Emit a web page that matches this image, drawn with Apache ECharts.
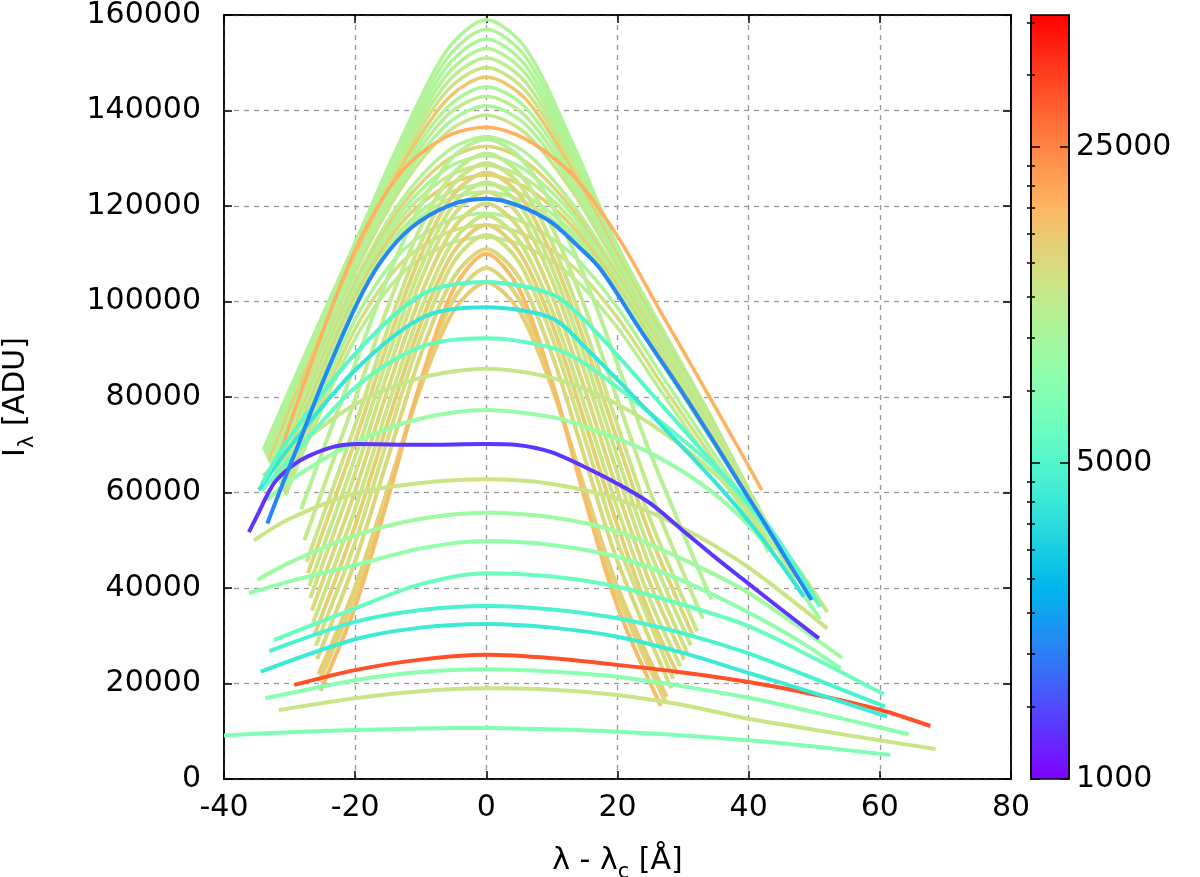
<!DOCTYPE html>
<html>
<head>
<meta charset="utf-8">
<script src="https://cdn.jsdelivr.net/npm/echarts@6/dist/echarts.min.js"></script>
<style>
  html, body { margin: 0; padding: 0; background: #fff; }
  #chart { width: 1200px; height: 877px; }
</style>
</head>
<body>
<div id="chart"></div>
<script>
// axis ticks
const xTicks = [-40, -20, 0, 20, 40, 60, 80];
const yTicks = [0, 20000, 40000, 60000, 80000, 100000, 120000, 140000, 160000];
const cbMajor = [1000, 5000, 25000];
const cbMinor = [1444, 1889, 2333, 2778, 3222, 3667, 4111, 4556,
                 7222, 9444, 11667, 13889, 16111, 18333, 20556, 22778,
                 36111, 47222];
const cbMin = 1000, cbMax = 49000;

// broad profiles (the dense bundle)
const g159 = [[-34,69000],[-27,90900],[-20,112400],[-13,134000],[-6,152600],[0,159000],[6,153000],[13,133600],[20,111600],[27,93800],[34,76500],[41,57600],[47,40900]];
const g157 = [[-33.85,68600],[-27,90300],[-20,111900],[-13,133100],[-6,150900],[0,157000],[6,151200],[13,132600],[20,111300],[27,93600],[34,76400],[41,57700],[47,41200]];
const g155 = [[-33.7,68100],[-27,89600],[-20,111300],[-13,132100],[-6,149200],[0,155000],[6,149400],[13,131700],[20,111000],[27,93400],[34,76300],[41,57800],[47,41500]];
const g153 = [[-33.54,67700],[-27,88900],[-20,110700],[-13,131100],[-6,147500],[0,153000],[6,147700],[13,130700],[20,110600],[27,93200],[34,76200],[41,57900],[47,41800]];
const g151 = [[-33.38,67200],[-27,88200],[-20,110100],[-13,130100],[-6,145800],[0,151000],[6,145900],[13,129700],[20,110200],[27,92900],[34,76000],[41,57900],[47,42100]];
const g149 = [[-33.23,66800],[-27,87500],[-20,109500],[-13,129100],[-6,144100],[0,149000],[6,144100],[13,128700],[20,109800],[27,92600],[34,75900],[41,58000],[47,42300]];
const t147 = [[-33.09,66400],[-27,86800],[-20,108900],[-13,128100],[-6,142300],[0,147000],[6,142400],[13,127600],[20,109400],[27,92300],[34,75700],[41,58000],[47,42500]];
const g145 = [[-32.93,66000],[-27,86000],[-20,108200],[-13,127000],[-6,140600],[0,145000],[6,140600],[13,126600],[20,108900],[27,92000],[34,75500],[41,58000],[47,42700]];
const g143 = [[-32.79,65600],[-27,85300],[-20,107500],[-13,125900],[-6,138900],[0,143000],[6,138800],[13,125500],[20,108400],[27,91600],[34,75300],[41,57900],[47,42900]];
const g141 = [[-32.65,65200],[-27,84500],[-20,106800],[-13,124800],[-6,137100],[0,141000],[6,137000],[13,124400],[20,107900],[27,91200],[34,75000],[41,57900],[47,43100]];
const g139 = [[-32.51,64800],[-27,83700],[-20,106100],[-13,123700],[-6,135400],[0,139000],[6,135200],[13,123300],[20,107300],[27,90800],[34,74700],[41,57800],[47,43200]];
const o136 = [[-32.38,64500],[-27,85900],[-20,110800],[-13,127100],[-6,134600],[0,136500],[6,134000],[13,126700],[20,113700],[27,96800],[34,80100],[40,65500],[42,60500]];
const g134 = [[-32.19,63900],[-27,81900],[-20,104300],[-13,121100],[-6,131400],[0,134500],[6,131200],[13,120700],[20,105900],[27,89800],[34,74000],[41,57600],[47,43400]];
const t132 = [[-32.05,63500],[-27,81100],[-20,103500],[-13,119900],[-6,129600],[0,132500],[6,129300],[13,119500],[20,105300],[27,89300],[34,73700],[41,57400],[47,43500]];
const g130 = [[-31.9,63100],[-27,80300],[-20,102700],[-13,118700],[-6,127900],[0,130500],[6,127500],[13,118400],[20,104600],[27,88800],[34,73300],[41,57300],[47,43600]];
const g128 = [[-31.76,62700],[-27,79500],[-20,101800],[-13,117500],[-6,126100],[0,128500],[6,125700],[13,117100],[20,103900],[27,88200],[34,72900],[41,57100],[47,43600]];
const t126 = [[-31.62,62300],[-27,78600],[-20,100900],[-13,116300],[-6,124300],[0,126500],[6,123900],[13,115900],[20,103200],[27,87700],[34,72500],[41,56900],[47,43600]];
const g124 = [[-31.48,61900],[-27,77700],[-20,100000],[-13,115000],[-6,122500],[0,124500],[6,122100],[13,114700],[20,102400],[27,87100],[34,72000],[41,56600],[47,43600]];
const g123 = [[-31.38,61600],[-27,77100],[-20,99400],[-13,114100],[-6,121200],[0,123000],[6,120700],[13,113700],[20,101800],[27,86600],[34,71700],[41,56500],[47,43500]];
const g118 = [[-31.03,60600],[-27,74500],[-20,96200],[-13,110300],[-6,116800],[0,118500],[6,116400],[13,110000],[20,98700],[27,84000],[34,69600],[41,54900],[44,48000]];
const y116 = [[-30.83,60000],[-27,73000],[-20,94200],[-13,108000],[-6,114400],[0,116000],[6,113900],[13,107600],[20,96600],[27,82200],[34,68100],[41,53700],[43.5,48000]];
const g113 = [[-30.61,59400],[-27,71400],[-20,92200],[-13,105700],[-6,111900],[0,113500],[6,111500],[13,105300],[20,94500],[27,80500],[34,66600],[41,52600],[43,47500]];

// narrow profiles (the V-shaped fan)
const n134 = [[-28.25,56500],[-20,86900],[-15,105100],[-10,120200],[-5,130400],[0,134000],[5,130400],[10,120200],[15,105100],[20,86900],[25,68200],[34.3,37600]];
const n131 = [[-27.75,50000],[-20,79500],[-15,98900],[-10,115600],[-5,126900],[0,131000],[5,126900],[10,115600],[15,98900],[20,79500],[25,60000],[33,33600]];
const n129 = [[-27.4,45500],[-20,74100],[-15,94400],[-10,112300],[-5,124600],[0,129000],[5,124600],[10,112300],[15,94400],[20,74100],[25,54300],[32.15,30900]];
const n127 = [[-27.2,43100],[-20,70800],[-15,91400],[-10,109700],[-5,122400],[0,127000],[5,122400],[10,109700],[15,91400],[20,70800],[25,51000],[31.6,29700]];
const n125 = [[-27,40500],[-20,67400],[-15,88400],[-10,107100],[-5,120300],[0,125000],[5,120300],[10,107100],[15,88400],[20,67400],[25,47600],[31.2,28000]];
const n123 = [[-26.85,37900],[-20,64000],[-15,85200],[-10,104500],[-5,118100],[0,123000],[5,118100],[10,104500],[15,85200],[20,64000],[25,44300],[30.6,26500]];
const n120 = [[-26.6,35300],[-20,60300],[-15,81700],[-10,101300],[-5,115400],[0,120500],[5,115400],[10,101300],[15,81700],[20,60300],[25,40900],[30.2,25000]];
const n118 = [[-26.4,32800],[-20,56600],[-15,78100],[-10,98200],[-5,112700],[0,118000],[5,112700],[10,98200],[15,78100],[20,56600],[25,37400],[29.6,23600]];
const n116 = [[-26.2,30200],[-20,53100],[-15,74800],[-10,95400],[-5,110400],[0,116000],[5,110400],[10,95400],[15,74800],[20,53100],[25,34200],[29.2,21900]];
const n114 = [[-26,27900],[-20,49600],[-15,71400],[-10,92600],[-5,108200],[0,114000],[5,108200],[10,92600],[15,71400],[20,49600],[28.5,21000]];
const n111 = [[-25.8,25100],[-20,45600],[-15,67300],[-10,88900],[-5,105000],[0,111000],[5,105000],[10,88900],[15,67300],[20,45600],[28.2,19000]];
const n104 = [[-25.6,21900],[-20,40200],[-15,60900],[-10,82000],[-5,98000],[0,104000],[5,98000],[10,82000],[15,60900],[20,40200],[27.5,17200]];
const n107 = [[-25.45,20400],[-20,38500],[-15,60300],[-10,82900],[-5,100400],[0,107000],[5,100400],[10,82900],[15,60300],[20,38500],[27.3,16200]];
const n110 = [[-25.3,18500],[-20,36100],[-15,58800],[-10,83300],[-5,102600],[0,110000],[5,102600],[10,83300],[15,58800],[20,36100],[26.6,15300]];

// separate profiles
const pA = [[-40,9100],[-30,9800],[-20,10250],[-10,10600],[0,10700],[10,10400],[20,9900],[30,9100],[40,8100],[50,6800],[61.6,5030]];
const pB = [[-31.6,14450],[-20,16900],[-10,18400],[0,19000],[10,18700],[20,17600],[30,15500],[40,12600],[50,10300],[60,8100],[68.5,6280]];
const pC = [[-33.7,16900],[-20,20700],[-10,22400],[0,23000],[10,22500],[20,21400],[30,19400],[40,17000],[50,14000],[64.4,9360]];
const pD = [[-29.3,19700],[-20,22800],[-10,25000],[0,26000],[10,25300],[20,23900],[30,22300],[40,20300],[50,17700],[60,14500],[67.7,11100]];
const pE = [[-34.4,22470],[-20,29260],[-10,31700],[0,32460],[10,31700],[20,29800],[30,26400],[40,22200],[50,18000],[61.1,13050]];
const pF = [[-33.1,26800],[-20,32900],[-10,35400],[0,36230],[10,35500],[20,33650],[30,30500],[40,26300],[50,21000],[60.8,15140]];
const pG = [[-32.4,29100],[-20,35750],[-10,40800],[0,43100],[10,42400],[20,40270],[30,36500],[40,32000],[50,25300],[60.6,17740]];
const pH = [[-36.2,38900],[-30,41400],[-20,44800],[-10,48300],[0,49840],[10,49000],[20,46500],[30,41500],[39.25,35400],[47,29500],[54,23200]];
const pI = [[-34.9,41700],[-30,45300],[-20,51000],[-10,54500],[0,55770],[10,54800],[20,51800],[30,46000],[39.25,39600],[47,32500],[54.2,25400]];
const pJ = [[-35.4,50000],[-30,54500],[-20,59800],[-10,62000],[0,62760],[10,61800],[20,58600],[30,52500],[39.25,45000],[47,37000],[52,31500]];
const pK = [[-33.4,58400],[-30,62500],[-20,70500],[-10,75500],[0,77300],[10,75800],[15,73800],[25,68300],[35,59500],[43,48500],[50.9,33500]];
const pL = [[-34,63500],[-30,68500],[-20,78500],[-10,84000],[0,85900],[10,84000],[20,78500],[30,69500],[40,57000],[47,45000],[52,35000]];
const pM = [[-34.2,60500],[-30,67000],[-20,82000],[-10,90500],[0,92300],[10,90300],[15,87000],[25,76600],[35.2,64700],[43,52000],[50.9,36100]];
const pN = [[-34.7,60500],[-30,69500],[-20,85650],[-9.5,96800],[0,98800],[10,96500],[15,90500],[25,76500],[35,62000],[42,50500],[48.4,38200]];
const pO = [[-34.2,61900],[-30,71500],[-19.7,89500],[-9.5,101700],[0,104100],[10,101500],[15,96100],[25,81000],[35,65500],[43,53000],[50.5,37000]];
const purple = [[-36.2,51700],[-35,55000],[-32.4,61900],[-29.8,65400],[-27.3,67500],[-23.2,69600],[-19.7,70150],[-10,70000],[0,70150],[4.7,69950],[9.8,68500],[14.9,65400],[19.9,61900],[25,57700],[30,52000],[35,46300],[39.25,41700],[45,35500],[50.7,29460]];
const blue = [[-33.4,53500],[-31,62000],[-29.3,67800],[-24.8,83600],[-19.7,99600],[-16.1,108300],[-11.6,115300],[-5.5,120200],[0,121500],[4.7,120200],[9.8,116700],[13.8,111800],[17.4,106800],[23.5,94000],[30.1,80500],[35.2,69500],[39.25,60500],[42.6,53200],[46,45500],[49.6,37500]];

// drawing order and colour-scale value of every profile
const bundle = [g159, g157, g155, g153, g151, g149, t147, g145, g143, g141, g139, o136,
                g134, t132, g130, g128, t126, g124, g123, g118, y116, g113];
const bundleCb = [10000, 10500, 9800, 10500, 11000, 12500, 16000, 10000, 11000, 10000, 12000, 19000,
                  10500, 14500, 10000, 11500, 15000, 10000, 10500, 10000, 13000, 11000];
const fan = [n134, n131, n129, n127, n125, n123, n120, n118, n116, n114, n111, n104, n107, n110];
const fanCb = [10500, 11500, 12500, 14500, 12000, 13000, 14000, 12500, 15000, 13000, 14000, 15500, 14500, 17500];
const single = [pA, pB, pC, pD, pE, pF, pG, pH, pI, pJ, pK, pL, pM, pN, pO, purple, blue];
const singleCb = [7000, 12500, 7500, 33000, 4200, 4700, 6000, 8000, 9000, 12500, 8500, 12000, 5800, 4000, 5200, 1300, 2000];

const FONT = 'DejaVu Sans';

function cbT(v) {
    return (Math.log10(v) - Math.log10(cbMin)) / (Math.log10(cbMax) - Math.log10(cbMin));
}
// gnuplot rgbformulae 33,13,10
function rainbow(t) {
    const c = x => Math.round(Math.max(0, Math.min(1, x)) * 255);
    const r = Math.abs(2 * t - 0.5), g = Math.sin(Math.PI * t), b = Math.cos(Math.PI * t / 2);
    return 'rgb(' + c(r) + ',' + c(g) + ',' + c(b) + ')';
}

function makeLine(pts, cb, width) {
    return {
        type: 'line',
        data: pts,
        xAxisIndex: 0,
        yAxisIndex: 0,
        showSymbol: false,
        smooth: 0.3,
        silent: true,
        lineStyle: { width: width, color: rainbow(cbT(cb)) },
        z: 2
    };
}

var series = [];
bundle.forEach((pts, i) => series.push(makeLine(pts, bundleCb[i], 3.5)));
fan.forEach((pts, i) => series.push(makeLine(pts, fanCb[i], 4)));
single.forEach((pts, i) => series.push(makeLine(pts, singleCb[i], 4)));

var stops = [];
for (let i = 0; i <= 40; i++) {
    stops.push({ offset: i / 40, color: rainbow(i / 40) });
}

var chart = echarts.init(document.getElementById('chart'), null, { renderer: 'canvas' });

const lg = v => Math.log10(v);
const tickStyle = { color: '#000', width: 1.5 };
const nameRich = {
    a: { fontFamily: FONT, fontSize: 30, color: '#000', lineHeight: 40 },
    s: { fontFamily: FONT, fontSize: 21, color: '#000', lineHeight: 22, verticalAlign: 'bottom', padding: [0, 0, -2, 0] }
};

var option = {
    animation: false,
    backgroundColor: '#fff',
    grid: [
        { left: 224, right: 189, top: 15, bottom: 98, show: true, borderColor: '#000', borderWidth: 1.5, outerBoundsMode: 'none' },
        { left: 1031, right: 131, top: 15, bottom: 98, outerBoundsMode: 'none' }
    ],
    xAxis: [
        {
            type: 'value', gridIndex: 0, position: 'bottom',
            min: xTicks[0], max: xTicks[xTicks.length - 1], interval: xTicks[1] - xTicks[0],
            axisLine: { onZero: false, lineStyle: { color: '#000', width: 1.5 } },
            axisTick: { inside: true, length: 8, lineStyle: tickStyle },
            axisLabel: { fontFamily: FONT, fontSize: 30, color: '#000', margin: 14 },
            splitLine: { show: true, lineStyle: { color: '#999', width: 1.3, type: [5, 5] } },
            name: '{a|λ - λ}{s|c}{a| [Å]}',
            nameLocation: 'middle', nameGap: 62,
            nameTextStyle: { fontFamily: FONT, color: '#000', rich: nameRich }
        },
        {
            type: 'value', gridIndex: 0, position: 'top',
            min: xTicks[0], max: xTicks[xTicks.length - 1], interval: xTicks[1] - xTicks[0],
            axisLine: { onZero: false, lineStyle: { color: '#000', width: 1.5 } },
            axisTick: { inside: true, length: 8, lineStyle: tickStyle },
            axisLabel: { show: false },
            splitLine: { show: false }
        },
        { type: 'value', gridIndex: 1, show: false, min: 0, max: 1 }
    ],
    yAxis: [
        {
            type: 'value', gridIndex: 0, position: 'left',
            min: yTicks[0], max: yTicks[yTicks.length - 1], interval: yTicks[1] - yTicks[0],
            axisLine: { show: true, onZero: false, lineStyle: { color: '#000', width: 1.5 } },
            axisTick: { show: true, inside: true, length: 8, lineStyle: tickStyle },
            axisLabel: { fontFamily: FONT, fontSize: 30, color: '#000', margin: 23, formatter: v => String(v) },
            splitLine: { show: true, lineStyle: { color: '#999', width: 1.3, type: [5, 5] } },
            name: '{a|I}{s|λ}{a| [ADU]}',
            nameLocation: 'middle', nameGap: 188,
            nameTextStyle: { fontFamily: FONT, color: '#000', rich: nameRich }
        },
        {
            type: 'value', gridIndex: 0, position: 'right',
            min: yTicks[0], max: yTicks[yTicks.length - 1], interval: yTicks[1] - yTicks[0],
            axisLine: { show: true, onZero: false, lineStyle: { color: '#000', width: 1.5 } },
            axisTick: { show: true, inside: true, length: 8, lineStyle: tickStyle },
            axisLabel: { show: false },
            splitLine: { show: false }
        },
        // colour box: right side, labels and major ticks
        {
            type: 'value', gridIndex: 1, position: 'right', z: 10,
            min: lg(cbMin), max: lg(cbMax),
            axisLine: { show: true, onZero: false, lineStyle: { color: '#000', width: 1.5 } },
            axisTick: { show: true, inside: true, length: 9, customValues: cbMajor.map(lg), lineStyle: tickStyle },
            axisLabel: {
                show: true, customValues: cbMajor.map(lg), margin: 7,
                fontFamily: FONT, fontSize: 30, color: '#000',
                formatter: v => String(Math.round(Math.pow(10, v)))
            },
            splitLine: { show: false }
        },
        {
            type: 'value', gridIndex: 1, position: 'right', z: 10,
            min: lg(cbMin), max: lg(cbMax),
            axisLine: { show: false },
            axisTick: { show: true, inside: true, length: 4, customValues: cbMinor.map(lg), lineStyle: tickStyle },
            axisLabel: { show: false },
            splitLine: { show: false }
        },
        {
            type: 'value', gridIndex: 1, position: 'left', z: 10,
            min: lg(cbMin), max: lg(cbMax),
            axisLine: { show: true, onZero: false, lineStyle: { color: '#000', width: 1.5 } },
            axisTick: { show: true, inside: true, length: 9, customValues: cbMajor.map(lg), lineStyle: tickStyle },
            axisLabel: { show: false },
            splitLine: { show: false }
        },
        {
            type: 'value', gridIndex: 1, position: 'left', z: 10,
            min: lg(cbMin), max: lg(cbMax),
            axisLine: { show: false },
            axisTick: { show: true, inside: true, length: 4, customValues: cbMinor.map(lg), lineStyle: tickStyle },
            axisLabel: { show: false },
            splitLine: { show: false }
        }
    ],
    graphic: [
        {
            type: 'rect', z: 1,
            shape: { x: 1031, y: 15, width: 38, height: 764 },
            style: {
                fill: new echarts.graphic.LinearGradient(0, 1, 0, 0, stops),
                stroke: '#000', lineWidth: 1.5
            }
        }
    ],
    series: series
};

chart.setOption(option);
</script>
</body>
</html>
